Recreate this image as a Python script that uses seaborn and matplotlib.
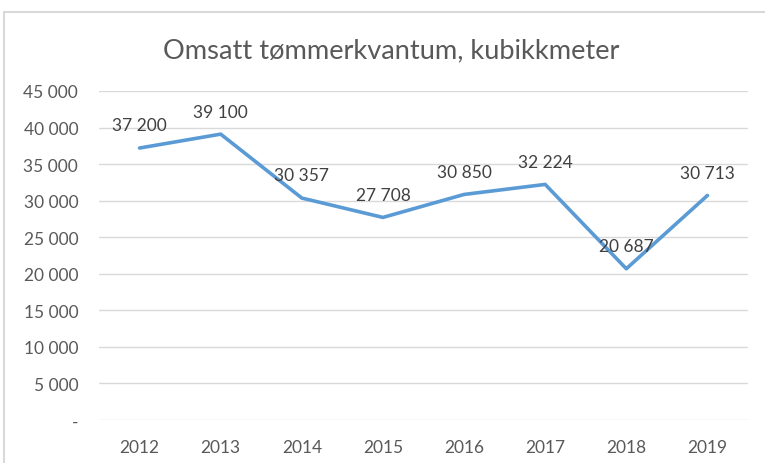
import matplotlib
matplotlib.use("Agg")
import matplotlib.pyplot as plt
import seaborn as sns
from matplotlib.patches import Rectangle
from matplotlib.ticker import FuncFormatter

# data
years = ["2012", "2013", "2014", "2015", "2016", "2017", "2018", "2019"]
volumes = [37200, 39100, 30357, 27708, 30850, 32224, 20687, 30713]
y_ticks = [0, 5000, 10000, 15000, 20000, 25000, 30000, 35000, 40000, 45000]

title = "Omsatt tømmerkvantum, kubikkmeter"


def fmt_thousands(v, pos=None):
    """Excel-style number: space as thousands separator, dash for zero"""
    if v == 0:
        return "-"
    return f"{int(round(v)):,}".replace(",", " ")


sns.set_theme(style="white")
plt.rcParams["font.family"] = ["Lato", "DejaVu Sans"]

fig = plt.figure(figsize=(7.65, 4.64), dpi=100)
W, H = 765, 464
ax = fig.add_axes([99 / W, 43 / H, (748 - 99) / W, (421 - 92) / H])

sns.lineplot(x=years, y=volumes, ax=ax, color="#5B9BD5", linewidth=2.6,
             sort=False)

ax.set_xlim(-0.5, len(years) - 0.5)
ax.set_ylim(0, 45000)
ax.set_yticks(y_ticks)
ax.yaxis.set_major_formatter(FuncFormatter(fmt_thousands))
ax.grid(axis="y", color="#D9D9D9", linewidth=1)
ax.grid(axis="x", visible=False)
for s in ax.spines.values():
    s.set_visible(False)
ax.tick_params(axis="y", length=0, pad=15, labelsize=12.5, labelcolor="#595959")
ax.tick_params(axis="x", length=0, pad=14, labelsize=12.5, labelcolor="#595959")
ax.set_xlabel("")
ax.set_ylabel("")

for i, v in enumerate(volumes):
    ax.annotate(fmt_thousands(v), (i, v), xytext=(0, 10.5),
                textcoords="offset points", ha="center", va="bottom",
                fontsize=12.5, color="#404040")

fig.text(391 / W, 1 - 51 / H, title, ha="center", va="center",
         fontsize=19.6, color="#595959")

# light chart-area border (left and top edges visible in the reference)
fig.patches.append(Rectangle((4 / W, -0.1), 1.2, 1 - 13 / H + 0.1,
                             transform=fig.transFigure, fill=False,
                             edgecolor="#D9D9D9", linewidth=1.5))

fig.savefig("out.png", dpi=100)
plt.close(fig)
